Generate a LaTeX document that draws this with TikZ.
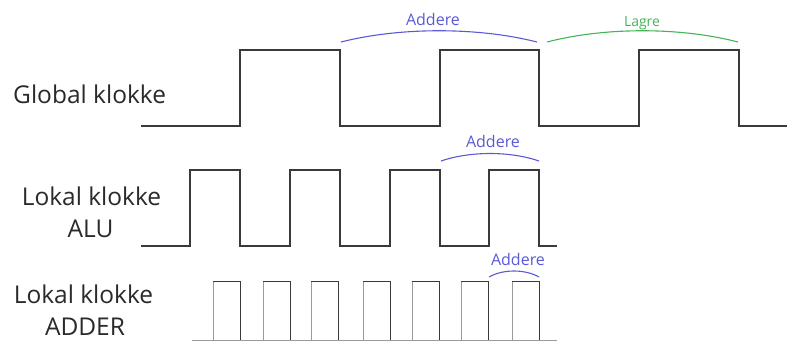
\documentclass[tikz,border=0pt]{standalone}
\usepackage{fontspec}
\setmainfont{Open Sans}
\definecolor{wave}{HTML}{3A3A3A}
\definecolor{wavelight}{HTML}{9A9A9A}
\definecolor{addblue}{HTML}{5A5AD6}
\definecolor{storegreen}{HTML}{44B455}
\definecolor{labelink}{HTML}{2A2A2A}
\tikzset{
  signal/.style={draw=wave, line width=1.6pt, line join=miter},
  fastsignal/.style={draw=wave, line width=1.0pt},
  fastedge/.style={draw=wavelight, line width=0.9pt},
  rowlabel/.style={text=labelink, font=\fontsize{24.5}{28}\selectfont, inner sep=0pt, anchor=base},
  phaselabel/.style={inner sep=0pt, anchor=base, font=\fontsize{16}{18}\selectfont},
  brace/.style={line width=1.1pt}
}
\begin{document}
\begin{tikzpicture}[x=1pt, y=-1pt]
\useasboundingbox (0,0) rectangle (787,341);

% Row labels
\node[rowlabel, anchor=base west] (lglobal) at (13,103) {Global klokke};
\node[rowlabel] (lalu1) at (91.5,205) {Lokal klokke};
\node[rowlabel] (lalu2) at (90.5,237) {ALU};
\node[rowlabel] (ladd1) at (83.5,303) {Lokal klokke};
\node[rowlabel] (ladd2) at (85,335) {ADDER};

% Global clock: period 200
\draw[signal] (141,126) -- (240,126) -- (240,50) -- (340,50) -- (340,126)
  -- (440,126) -- (440,50) -- (539,50) -- (539,126)
  -- (639,126) -- (639,50) -- (739,50) -- (739,126) -- (787,126);

% ALU clock: period 100
\draw[signal] (141,246) -- (190,246) -- (190,170) -- (240,170) -- (240,246)
  -- (290,246) -- (290,170) -- (340,170) -- (340,246)
  -- (390,246) -- (390,170) -- (440,170) -- (440,246)
  -- (489,246) -- (489,170) -- (539,170) -- (539,246) -- (557,246);

% ADDER clock: period 50
\draw[fastedge] (192,340) -- (557,340);
\foreach \f in {240,290,338,390,439,488,539}{
  \draw[fastedge] (\f-27,340) -- (\f-27,281);
  \draw[fastsignal] (\f-27,281) -- (\f,281) -- (\f,340);
}

% Phase markings
\draw[brace, addblue] (341,42) .. controls (400,27) and (478,27) .. (537,42);
\node[phaselabel, text=addblue] (padd1) at (433,25) {Addere};
\draw[brace, storegreen] (547,42) .. controls (605,27) and (680,27) .. (738,42);
\node[phaselabel, text=storegreen, font=\fontsize{14}{16}\selectfont] (pstore) at (642,26) {Lagre};
\draw[brace, addblue] (441,161) .. controls (470,151) and (510,151) .. (539,161);
\node[phaselabel, text=addblue] (padd2) at (493,147) {Addere};
\draw[brace, addblue] (489,277) .. controls (503,269) and (525,269) .. (539,277);
\node[phaselabel, text=addblue] (padd3) at (518,265) {Addere};
\end{tikzpicture}
\end{document}
